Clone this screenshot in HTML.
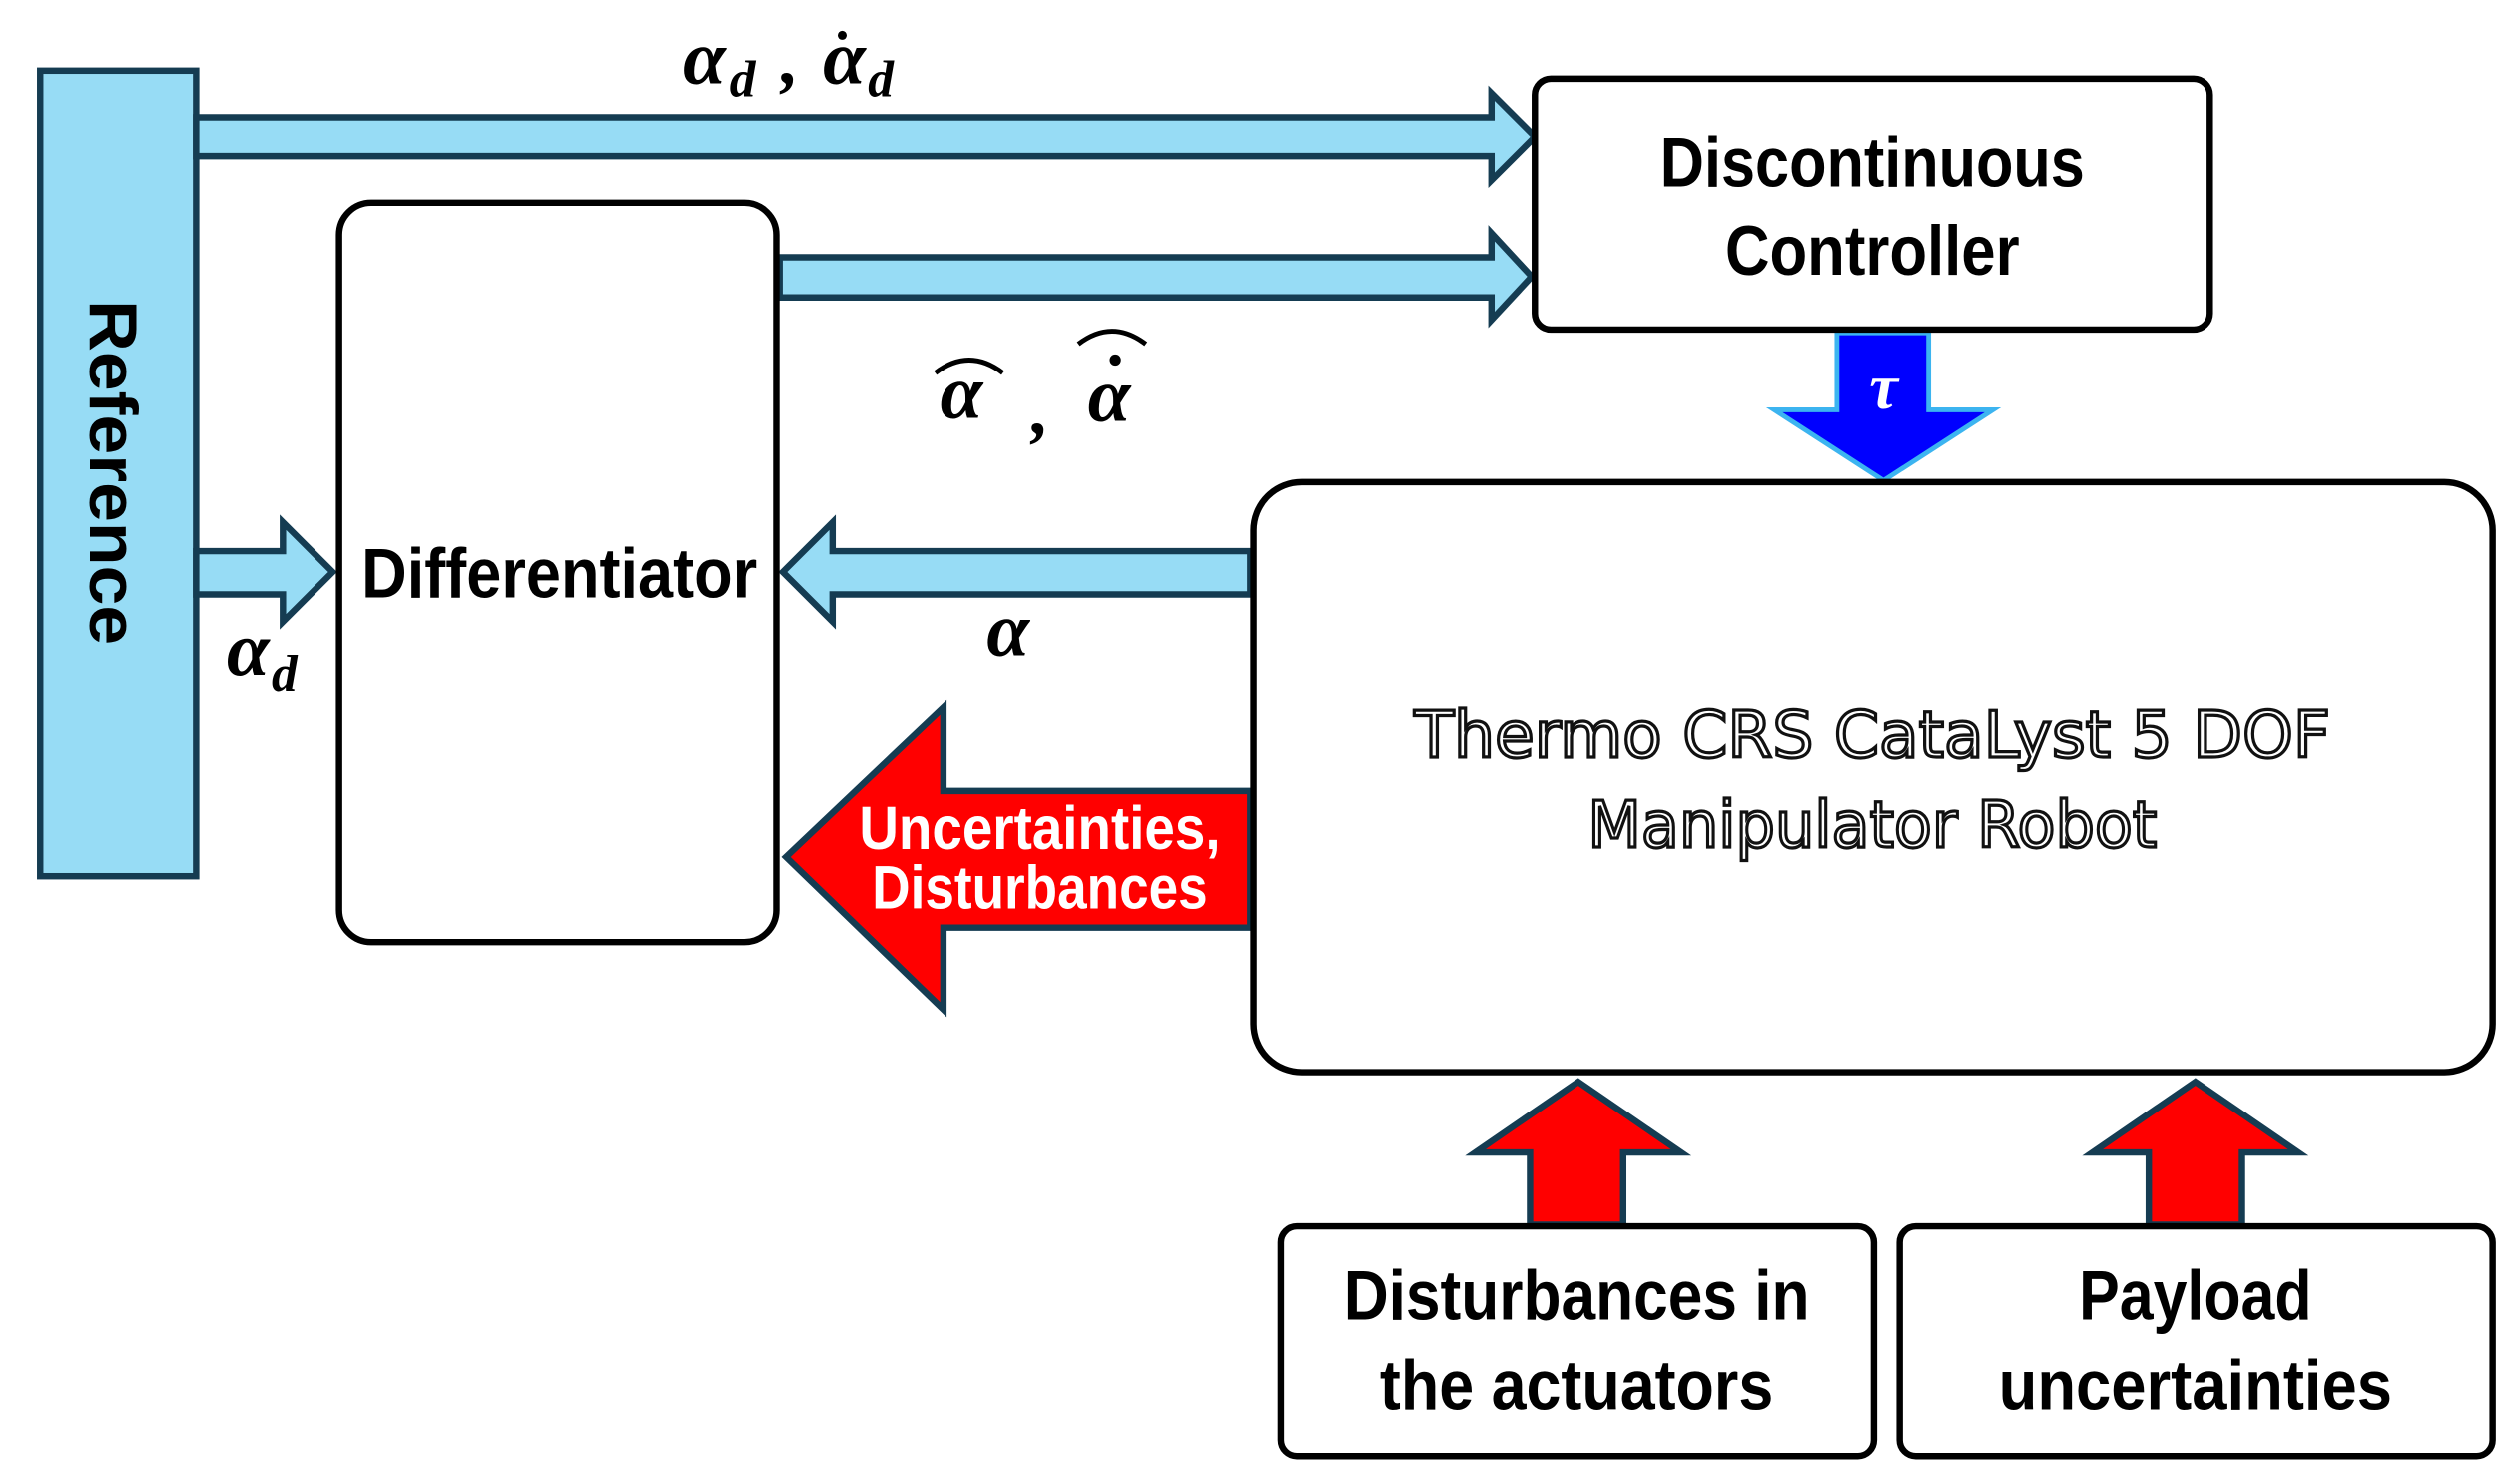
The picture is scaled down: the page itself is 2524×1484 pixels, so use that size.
<!DOCTYPE html>
<html><head><meta charset="utf-8"><style>
html,body{margin:0;padding:0;background:#fff;}
svg{display:block;}
.b{font-family:"Liberation Sans",sans-serif;font-weight:bold;fill:#000;}
.m{font-family:"Liberation Serif",serif;font-style:italic;font-weight:bold;fill:#000;}
</style></head><body>
<svg width="2524" height="1484" viewBox="0 0 1568 922" preserveAspectRatio="none" xmlns="http://www.w3.org/2000/svg">
<rect x="0" y="0" width="1568" height="922" fill="#fff"/>
<!-- Reference bar -->
<rect x="25" y="44" width="97" height="501" fill="#97dcf5" stroke="#153c52" stroke-width="4"/>
<text class="b" x="0" y="0" font-size="42" transform="translate(56,294) rotate(90)" text-anchor="middle" textLength="215" lengthAdjust="spacingAndGlyphs">Reference</text>
<!-- top arrow -->
<polygon points="122,73 928,73 928,58 955,85 928,112 928,97 122,97" fill="#97dcf5" stroke="#153c52" stroke-width="4"/>
<!-- second arrow -->
<polygon points="485,160 928,160 928,145 953,172 928,199 928,185 485,185" fill="#97dcf5" stroke="#153c52" stroke-width="4"/>
<!-- ref to diff -->
<polygon points="122,343 176,343 176,325 207,356 176,387 176,370 122,370" fill="#97dcf5" stroke="#153c52" stroke-width="4"/>
<!-- alpha arrow -->
<polygon points="778,343 518,343 518,325 487,356 518,387 518,370 778,370" fill="#97dcf5" stroke="#153c52" stroke-width="4"/>
<!-- red big arrow -->
<polygon points="778,492 587,492 587,440 489,533 587,628 587,577 778,577" fill="#f00" stroke="#153c52" stroke-width="4"/>
<text class="b" x="647" y="528" font-size="38" text-anchor="middle" style="fill:#fff" textLength="225" lengthAdjust="spacingAndGlyphs">Uncertainties,</text>
<text class="b" x="647" y="565" font-size="38" text-anchor="middle" style="fill:#fff" textLength="209" lengthAdjust="spacingAndGlyphs">Disturbances</text>
<!-- tau arrow -->
<polygon points="1143,207 1200,207 1200,255 1240,255 1172,299 1104,255 1143,255" fill="#0000ff" stroke="#3cb4f0" stroke-width="3"/>
<text class="m" x="1172" y="254" font-size="40" text-anchor="middle" style="fill:#fff">τ</text>
<!-- red up arrows -->
<polygon points="952,762 952,717 918,717 982,673 1046,717 1010,717 1010,762" fill="#f00" stroke="#153c52" stroke-width="4"/>
<polygon points="1337,762 1337,717 1302,717 1366,673 1430,717 1395,717 1395,762" fill="#f00" stroke="#153c52" stroke-width="4"/>
<!-- boxes -->
<rect x="955" y="49" width="420" height="156" rx="10" fill="#fff" stroke="#000" stroke-width="4"/>
<text class="b" x="1165" y="116" font-size="44" text-anchor="middle" textLength="264" lengthAdjust="spacingAndGlyphs">Discontinuous</text>
<text class="b" x="1165" y="171" font-size="44" text-anchor="middle" textLength="183" lengthAdjust="spacingAndGlyphs">Controller</text>
<rect x="211" y="126" width="272" height="460" rx="20" fill="#fff" stroke="#000" stroke-width="4"/>
<text class="b" x="348" y="372" font-size="44" text-anchor="middle" textLength="246" lengthAdjust="spacingAndGlyphs">Differentiator</text>
<rect x="780" y="300" width="771" height="367" rx="30" fill="#fff" stroke="#000" stroke-width="4"/>
<text x="1165" y="471" font-size="40" text-anchor="middle" font-family="'DejaVu Sans','Liberation Sans',sans-serif" fill="#fff" stroke="#111" stroke-width="2" textLength="570" lengthAdjust="spacingAndGlyphs">Thermo CRS CataLyst 5 DOF</text>
<text x="1165" y="527" font-size="40" text-anchor="middle" font-family="'DejaVu Sans','Liberation Sans',sans-serif" fill="#fff" stroke="#111" stroke-width="2" textLength="354" lengthAdjust="spacingAndGlyphs">Manipulator Robot</text>
<rect x="797" y="763" width="369" height="143" rx="10" fill="#fff" stroke="#000" stroke-width="4"/>
<text class="b" x="981" y="821" font-size="44" text-anchor="middle" textLength="290" lengthAdjust="spacingAndGlyphs">Disturbances in</text>
<text class="b" x="981" y="877" font-size="44" text-anchor="middle" textLength="245" lengthAdjust="spacingAndGlyphs">the actuators</text>
<rect x="1182" y="763" width="369" height="143" rx="10" fill="#fff" stroke="#000" stroke-width="4"/>
<text class="b" x="1366" y="821" font-size="44" text-anchor="middle" textLength="145" lengthAdjust="spacingAndGlyphs">Payload</text>
<text class="b" x="1366" y="877" font-size="44" text-anchor="middle" textLength="245" lengthAdjust="spacingAndGlyphs">uncertainties</text>
<!-- math labels -->
<text class="m" x="425" y="52" font-size="48">α</text>
<text class="m" x="454" y="60" font-size="32">d</text>
<text class="m" x="486" y="52" font-size="44">,</text>
<text class="m" x="512" y="52" font-size="48">α</text>
<circle cx="524" cy="22" r="2.8" fill="#000"/>
<text class="m" x="540" y="60" font-size="32">d</text>
<text class="m" x="585" y="260" font-size="48">α</text>
<path d="M582,232 Q603,216 624,232" fill="none" stroke="#000" stroke-width="3"/>
<text class="m" x="642" y="270" font-size="44">,</text>
<text class="m" x="677" y="262" font-size="48">α</text>
<circle cx="694" cy="224" r="3.5" fill="#000"/>
<path d="M671,214 Q692,198 713,214" fill="none" stroke="#000" stroke-width="3"/>
<text class="m" x="141" y="420" font-size="48">α</text>
<text class="m" x="169" y="430" font-size="32">d</text>
<text class="m" x="614" y="408" font-size="48">α</text>
</svg>
</body></html>
